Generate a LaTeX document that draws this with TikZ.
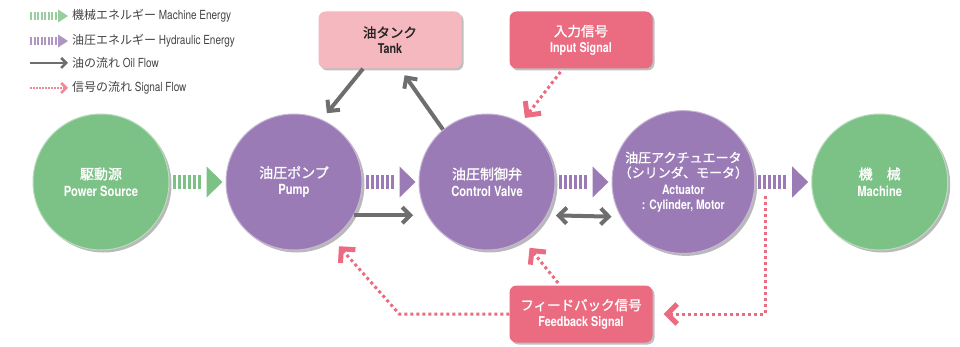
\documentclass[tikz,border=0pt]{standalone}
\usepackage{fontspec}
\usepackage{tikz}
\usetikzlibrary{positioning}
\usetikzlibrary{calc,shadows,arrows.meta}
\newfontfamily\jp{Noto Sans CJK JP}
\newfontfamily\jpb[FakeBold=1.3]{Noto Sans CJK JP}
\newfontfamily\cond[FakeStretch=0.8]{TeX Gyre Heros}
\definecolor{mechgreen}{HTML}{7CC186}
\definecolor{hydpurple}{HTML}{9A7BB5}
\definecolor{sigpink}{HTML}{EB6B81}
\definecolor{tankpink}{HTML}{F5B8BE}
\definecolor{oilgray}{HTML}{6E6E6E}
\definecolor{leggray}{HTML}{444444}
\newcommand{\en}[1]{{\cond\bfseries #1}}
\newcommand{\legen}[1]{{\cond\fontsize{12.5}{13}\selectfont #1}}
% striped energy arrow between two circles
\newcommand{\energyflow}[3]{%
  \foreach \i in {0,...,5}
    \fill [#3] ($(#1.east)+(3+\i*5,-7)$) rectangle ++(3,14);
  \fill [#3] ($(#2.west)+(-3,0)$) -- ++(-16,-15.5) -- ++(0,31) -- cycle;
}
% small striped arrow for the legend
\newcommand{\legendflow}[2]{%
  \foreach \i in {0,...,7}
    \fill [#2] ($(#1)+(\i*3.5,-4)$) rectangle ++(2,8);
  \fill [#2] ($(#1)+(28,-6.5)$) -- ++(10,6.5) -- ++(-10,6.5) -- cycle;
}

\begin{document}
\begin{tikzpicture}[x=1pt, y=-1pt,
  unit/.style={circle, minimum size=136pt, inner sep=0pt, fill=#1, draw=#1!55!white,
    line width=1pt, text=white, align=center,
    drop shadow={shadow xshift=2.5pt, shadow yshift=-2.5pt, opacity=.55},
    font=\jpb\fontsize{14}{17}\selectfont},
  box/.style={rounded corners=7pt, minimum width=143pt, minimum height=57pt, fill=#1,
    align=center, drop shadow={shadow xshift=2pt, shadow yshift=-2pt, opacity=.5},
    font=\jpb\fontsize{13.5}{16}\selectfont},
  oil/.style={draw=oilgray, line width=4pt, -{Straight Barb[sharp,angle'=90,length=8pt]}},
  sig/.style={draw=sigpink, line width=3pt, dash pattern=on 3pt off 3pt,
    -{Straight Barb[sharp,angle'=90,length=10pt,line width=5pt]}},
  legtext/.style={anchor=west, text=leggray, inner sep=0pt, font=\jp\fontsize{12}{14}\selectfont}]
\useasboundingbox [fill=white] (0,0) rectangle (960,347);
% Legend
\coordinate (legmech) at (30,16);
\coordinate (leghyd) at (30,41);
\coordinate (legoilA) at (30,63);
\coordinate (legoilB) at (68,63);
\coordinate (legsigA) at (30,88);
\coordinate (legsigB) at (68,88);
\legendflow{legmech}{mechgreen!80!white}
\legendflow{leghyd}{hydpurple!80!white}
\draw [draw=oilgray, line width=2.5pt, -{Straight Barb[sharp,angle'=90,length=5pt]}] (legoilA) -- (legoilB);
\draw [draw=sigpink!80!white, line width=1.5pt, dash pattern=on 1.5pt off 1.5pt,
  -{Straight Barb[sharp,angle'=90,length=5pt,line width=2.5pt]}] (legsigA) -- (legsigB);
\node [legtext] (legmechtext) at (72,16) {機械エネルギー \legen{Machine Energy}};
\node [legtext] (leghydtext) at (72,41) {油圧エネルギー \legen{Hydraulic Energy}};
\node [legtext] (legoiltext) at (72,63) {油の流れ \legen{Oil Flow}};
\node [legtext] (legsigtext) at (72,88) {信号の流れ \legen{Signal Flow}};
% Units
\node [unit=mechgreen] (ps) at (101,182) {駆動源\\\en{Power Source}};
\node [unit=hydpurple, right=56pt of ps] (pump) {油圧ポンプ\\\en{Pump}};
\node [unit=hydpurple, right=56pt of pump] (valve) {油圧制御弁\\\en{Control Valve}};
\node [unit=hydpurple, right=56pt of valve, font=\jpb\fontsize{13}{15}\selectfont] (act)
  {油圧アクチュエータ\\（シリンダ、モータ）\\[2pt]\en{Actuator}\\\en{: Cylinder, Motor}};
\node [unit=mechgreen, right=56pt of act] (mach) {機　械\\\en{Machine}};
% Boxes
\node [box=tankpink, text=black!85] (tank) at (390,40) {油タンク\\\en{Tank}};
\node [box=sigpink, text=white] (input) at (581,40) {入力信号\\\en{Input Signal}};
\node [box=sigpink, text=white] (fb) at (581,314) {フィードバック信号\\\en{Feedback Signal}};
% Energy
\energyflow{ps}{pump}{mechgreen}
\energyflow{pump}{valve}{hydpurple}
\energyflow{valve}{act}{hydpurple}
\energyflow{act}{mach}{hydpurple}
% Oil
\draw [oil, shorten >=8pt] ([xshift=-27pt]tank.south) -- (pump.66);
\draw [oil, shorten >=8pt] (valve.130) -- ([xshift=10pt]tank.south);
\draw [oil, shorten >=14pt] (pump.-29) -- (valve.209);
\draw [oil, {Straight Barb[sharp,angle'=90,length=8pt]}-{Straight Barb[sharp,angle'=90,length=8pt]},
  shorten <=9pt, shorten >=9pt] (valve.-29) -- (act.209);
% Signals
\coordinate (sense) at (765,196);
\coordinate (fbturn) at ($(fb.west)+(-110,0)$);
\draw [sig, shorten <=4pt, shorten >=6pt] ([xshift=-18pt]input.south) -- (valve.60);
\draw [sig, shorten >=11pt] (sense) |- (fb.east);
\draw [sig, shorten <=3pt, shorten >=10pt] ([xshift=-21pt]fb.north) -- (valve.-58);
\draw [sig, shorten >=10pt] (fb.west) -- (fbturn) -- (pump.-56);
\end{tikzpicture}
\end{document}
